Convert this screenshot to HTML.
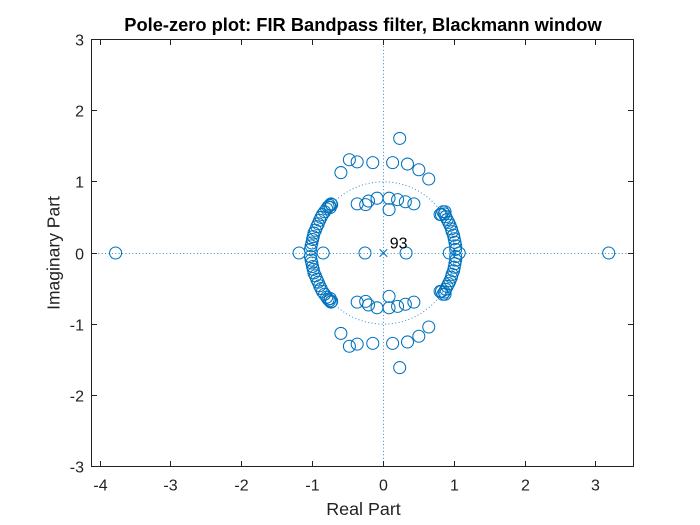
<!DOCTYPE html>
<html>
<head>
<meta charset="utf-8">
<style>
html,body{margin:0;padding:0;background:#fff;}
svg{display:block;}
text{font-family:"Liberation Sans",Arial,sans-serif;}
</style>
</head>
<body>
<svg id="chart" xmlns="http://www.w3.org/2000/svg" width="700" height="525" viewBox="0 0 700 525"></svg>
<script>
const xTickValues = [-4, -3, -2, -1, 0, 1, 2, 3];
const yTickValues = [-3, -2, -1, 0, 1, 2, 3];
const xLimits = [-4.12, 3.53];
const yLimits = [-3, 3];
const chartTitle = 'Pole-zero plot: FIR Bandpass filter, Blackmann window';
const xLabel = 'Real Part';
const yLabel = 'Imaginary Part';
const poleMultiplicity = '93';
const polesRe = [0];
const polesIm = [0];
// Zeros on/above the real axis; those with Im > 0 also get a conjugate mark.
const zerosRe = [-3.78, 3.18, -1.19, -0.85, -0.26, 0.32, 0.93, 1.07,
  0.23, 0.13, 0.34, 0.50, 0.64, -0.48, -0.37, -0.60, -0.15,
  -0.37, -0.25, -0.21, -0.09, 0.08, 0.08, 0.20, 0.31, 0.43,
  -1.03, -1.02, -1.01, -1.00, -0.99, -0.98, -0.96, -0.94, -0.92, -0.90, -0.88, -0.86, -0.83, -0.80, -0.78, -0.76, -0.74, -0.73, -0.75,
  1.02, 1.02, 1.01, 1.00, 0.99, 0.97, 0.96, 0.94, 0.92, 0.90, 0.88, 0.86, 0.84, 0.82, 0.87, 0.80];
const zerosIm = [0, 0, 0, 0, 0, 0, 0, 0,
  1.61, 1.27, 1.25, 1.17, 1.04, 1.31, 1.28, 1.13, 1.27,
  0.69, 0.68, 0.73, 0.77, 0.77, 0.61, 0.75, 0.72, 0.69,
  0.05, 0.10, 0.14, 0.19, 0.23, 0.28, 0.32, 0.37, 0.41, 0.46, 0.50, 0.54, 0.58, 0.62, 0.65, 0.67, 0.69, 0.68, 0.64,
  0.05, 0.10, 0.15, 0.20, 0.25, 0.30, 0.34, 0.39, 0.43, 0.47, 0.51, 0.55, 0.58, 0.54, 0.58, 0.54];

const NS = 'http://www.w3.org/2000/svg';
const svg = document.getElementById('chart');
const plotLeft = 91.5, plotRight = 633.5, plotTop = 39.5, plotBottom = 466.5;
const BLUE = '#0072BD', INK = '#222222';

function xScale(v) { return plotLeft + (v - xLimits[0]) / (xLimits[1] - xLimits[0]) * (plotRight - plotLeft); }
function yScale(v) { return plotBottom - (v - yLimits[0]) / (yLimits[1] - yLimits[0]) * (plotBottom - plotTop); }
function make(tag, attrs, parent) {
  const el = document.createElementNS(NS, tag);
  for (const k in attrs) el.setAttribute(k, attrs[k]);
  (parent || svg).appendChild(el);
  return el;
}
function crisp(p) { return Math.floor(p) + 0.5; }

// dotted reference lines
const xAxisLine = make('line', {x1: plotLeft, x2: plotRight, y1: crisp(yScale(0)), y2: crisp(yScale(0)), stroke: '#2f8fcf', 'stroke-width': 1, 'stroke-dasharray': '1 2.4'});


const yAxisLine = make('line', {x1: crisp(xScale(0)), x2: crisp(xScale(0)), y1: plotTop, y2: plotBottom, stroke: '#2f8fcf', 'stroke-width': 1, 'stroke-dasharray': '1 2.4'});


const unitCircle = make('ellipse', {cx: xScale(0), cy: yScale(0), rx: xScale(1) - xScale(0), ry: yScale(0) - yScale(1), fill: 'none', stroke: '#2f8fcf', 'stroke-width': 1, 'stroke-dasharray': '1 2.4'});



// axes box
const box = make('rect', {x: plotLeft, y: plotTop, width: plotRight - plotLeft, height: plotBottom - plotTop, fill: 'none', stroke: INK, 'stroke-width': 1});



// x ticks
xTickValues.forEach(function (v) {
  const x = crisp(xScale(v));
  const t1 = make('line', {x1: x, x2: x, y1: plotBottom, y2: plotBottom - 5.5, stroke: INK, 'stroke-width': 1});
  
  
  const t2 = make('line', {x1: x, x2: x, y1: plotTop, y2: plotTop + 5.5, stroke: INK, 'stroke-width': 1});
  
  
  const lab = make('text', {x: x, y: 490.7, 'text-anchor': 'middle', 'font-size': '16px', fill: INK});
  
  
  lab.textContent = String(v);
});
// y ticks
yTickValues.forEach(function (v) {
  const y = crisp(yScale(v));
  const t1 = make('line', {x1: plotLeft, x2: plotLeft + 5.5, y1: y, y2: y, stroke: INK, 'stroke-width': 1});
  
  
  const t2 = make('line', {x1: plotRight, x2: plotRight - 5.5, y1: y, y2: y, stroke: INK, 'stroke-width': 1});
  
  
  const lab = make('text', {x: 84, y: y + 5.8, 'text-anchor': 'end', 'font-size': '16px', fill: INK});
  
  
  lab.textContent = String(v);
});

// zeros
function drawZero(re, im) {
  const c = make('circle', {cx: xScale(re), cy: yScale(im), r: 6, fill: 'none', stroke: BLUE, 'stroke-width': 1.05});
  
  
}
zerosRe.forEach(function (re, i) {
  drawZero(re, zerosIm[i]);
  if (zerosIm[i] > 0) drawZero(re, -zerosIm[i]);
});

// poles
polesRe.forEach(function (re, i) {
  const px = xScale(re), py = yScale(polesIm[i]), s = 3.8;
  const p = make('path', {d: 'M' + (px - s) + ' ' + (py - s) + 'L' + (px + s) + ' ' + (py + s) + 'M' + (px - s) + ' ' + (py + s) + 'L' + (px + s) + ' ' + (py - s), fill: 'none', stroke: BLUE, 'stroke-width': 1.05});
  
  
  const lab = make('text', {x: px + 6.3, y: py - 4.6, 'font-size': '16px', fill: '#000'});
  
  
  lab.textContent = poleMultiplicity;
});

// titles
const title = make('text', {x: 363, y: 31, 'text-anchor': 'middle', 'font-size': '18.3px', 'font-weight': 'bold', fill: '#000'});


title.textContent = chartTitle;
const xl = make('text', {x: 363.5, y: 515, 'text-anchor': 'middle', 'font-size': '17.9px', fill: INK});


xl.textContent = xLabel;
const yl = make('text', {x: 0, y: 0, 'text-anchor': 'middle', 'font-size': '17.5px', fill: INK, transform: 'translate(59.5 253) rotate(-90)'});


yl.textContent = yLabel;
</script>
</body>
</html>
